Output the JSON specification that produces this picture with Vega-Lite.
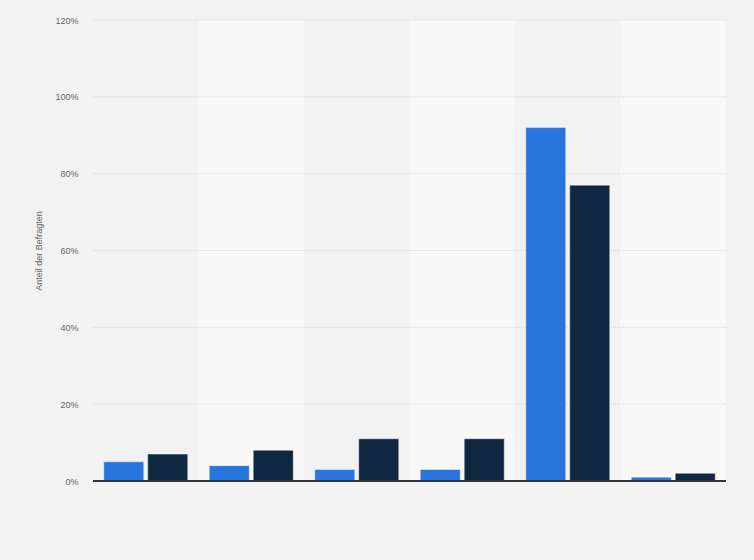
{
  "$schema": "https://vega.github.io/schema/vega-lite/v6.json",
  "width": 633,
  "height": 461,
  "autosize": {"type": "none"},
  "padding": {"left": 93, "top": 20, "right": 28, "bottom": 79},
  "background": "#f2f2f2",
  "config": {
    "view": {"stroke": null},
    "font": "Liberation Sans",
    "axis": {"labelFont": "Liberation Sans", "titleFont": "Liberation Sans"}
  },
  "datasets": {
    "umfrage": [
      {"kategorie": "A", "reihe": "Reihe 1", "anteil": 0.05},
      {"kategorie": "A", "reihe": "Reihe 2", "anteil": 0.07},
      {"kategorie": "B", "reihe": "Reihe 1", "anteil": 0.04},
      {"kategorie": "B", "reihe": "Reihe 2", "anteil": 0.08},
      {"kategorie": "C", "reihe": "Reihe 1", "anteil": 0.03},
      {"kategorie": "C", "reihe": "Reihe 2", "anteil": 0.11},
      {"kategorie": "D", "reihe": "Reihe 1", "anteil": 0.03},
      {"kategorie": "D", "reihe": "Reihe 2", "anteil": 0.11},
      {"kategorie": "E", "reihe": "Reihe 1", "anteil": 0.92},
      {"kategorie": "E", "reihe": "Reihe 2", "anteil": 0.77},
      {"kategorie": "F", "reihe": "Reihe 1", "anteil": 0.01},
      {"kategorie": "F", "reihe": "Reihe 2", "anteil": 0.02}
    ],
    "raster": [
      {"wert": 0.2}, {"wert": 0.4}, {"wert": 0.6}, {"wert": 0.8}, {"wert": 1.0}, {"wert": 1.2}
    ]
  },
  "data": {"name": "umfrage"},
  "layer": [
    {
      "transform": [
        {"filter": "datum.reihe == 'Reihe 1'"},
        {"filter": {"field": "kategorie", "oneOf": ["B", "D", "F"]}}
      ],
      "mark": {"type": "rect", "color": "#f8f8f8"},
      "encoding": {
        "x": {"field": "kategorie", "type": "nominal"}
      }
    },
    {
      "data": {"name": "raster"},
      "mark": {"type": "rule", "color": "#d8d8d8", "strokeDash": [1, 1], "strokeWidth": 1},
      "encoding": {
        "y": {"field": "wert", "type": "quantitative"}
      }
    },
    {
      "mark": {"type": "bar", "stroke": "#ffffff", "strokeOpacity": 0.45, "strokeWidth": 1},
      "encoding": {
        "x": {
          "field": "kategorie",
          "type": "nominal",
          "scale": {"domain": ["A", "B", "C", "D", "E", "F"], "paddingInner": 0, "paddingOuter": 0},
          "axis": {"labels": false, "ticks": false, "title": null, "domain": false, "grid": false}
        },
        "xOffset": {
          "field": "reihe",
          "type": "nominal",
          "scale": {"paddingInner": 0.09, "paddingOuter": 0.244}
        },
        "y": {
          "field": "anteil",
          "type": "quantitative",
          "scale": {"domain": [0, 1.2], "nice": false},
          "axis": {
            "values": [0, 0.2, 0.4, 0.6, 0.8, 1.0, 1.2],
            "format": ".0%",
            "title": "Anteil der Befragten",
            "titleFontSize": 9,
            "titleFontWeight": "normal",
            "titleColor": "#666666",
            "titleX": -50,
            "labelFontSize": 9,
            "labelColor": "#666666",
            "labelPadding": 15,
            "domain": false,
            "ticks": false,
            "grid": false
          }
        },
        "color": {
          "field": "reihe",
          "type": "nominal",
          "scale": {"domain": ["Reihe 1", "Reihe 2"], "range": ["#2876dd", "#0f2740"]},
          "legend": null
        }
      }
    },
    {
      "mark": {"type": "rule", "color": "#333333", "strokeWidth": 1},
      "encoding": {"y": {"datum": 0}}
    }
  ]
}
